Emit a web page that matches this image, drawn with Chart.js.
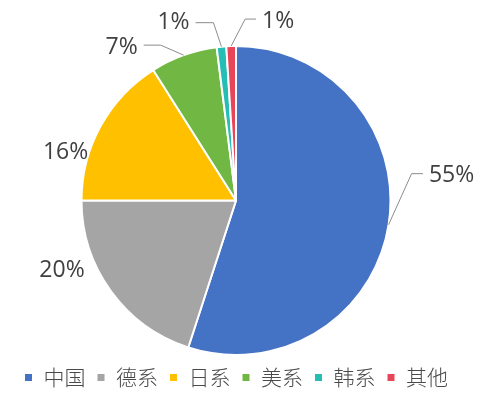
<!DOCTYPE html>
<html>
<head>
<meta charset="utf-8">
<script src="https://cdn.jsdelivr.net/npm/chart.js@4"></script>
<style>
  html, body { margin: 0; padding: 0; background: #ffffff; }
  #wrap { width: 480px; height: 393px; position: relative; }
</style>
</head>
<body>
<div id="wrap"><canvas id="chart"></canvas></div>
<script>
// Categories and shares (%)
const CATEGORIES = ['中国', '德系', '日系', '美系', '韩系', '其他'];
const SHARES = [55, 20, 16, 7, 1, 1];
const COLORS = ['#4472C4', '#A5A5A5', '#FFC000', '#70B843', '#26BDB5', '#E84558'];

// Label placement relative to each slice's outer mid-point: [elbowDx, elbowDy, textDx, textDy, leader]
const LABEL_PLACE = [
  [23, -51, 63, -49, true],
  [0, 0, -49, -21, false],
  [0, 0, -35, 26, false],
  [-23, -10, -62, -8, true],
  [-8, -24, -48, -24, true],
  [14, -27, 47, -25, true],
];

const FONT = '"Open Sans", "Noto Sans", sans-serif';
const CJK_FONT = '"Noto Sans CJK SC", sans-serif';

const pieLabels = {
  id: 'pieLabels',
  afterDatasetsDraw(chart) {
    const ctx = chart.ctx;
    const meta = chart.getDatasetMeta(0);
    ctx.save();
    ctx.font = '23px ' + FONT;
    ctx.fillStyle = '#404040';
    ctx.textAlign = 'center';
    ctx.textBaseline = 'middle';
    meta.data.forEach((arc, i) => {
      const p = arc.getProps(['x', 'y', 'startAngle', 'endAngle', 'outerRadius'], true);
      const mid = (p.startAngle + p.endAngle) / 2;
      const ax = p.x + Math.cos(mid) * p.outerRadius;
      const ay = p.y + Math.sin(mid) * p.outerRadius;
      const [ex, ey, tx, ty, leader] = LABEL_PLACE[i];
      const textX = ax + tx, textY = ay + ty;
      if (leader) {
        const w = ctx.measureText(SHARES[i] + '%').width;
        const side = tx > ex ? 1 : -1;
        ctx.strokeStyle = '#8c8c8c';
        ctx.lineWidth = 1;
        ctx.beginPath();
        ctx.moveTo(ax, ay);
        ctx.lineTo(ax + ex, ay + ey);
        ctx.lineTo(textX - side * (w / 2 + 6), ay + ey);
        ctx.stroke();
      }
      ctx.fillText(SHARES[i] + '%', textX, textY);
    });
    ctx.restore();
  }
};

new Chart(document.getElementById('chart'), {
  type: 'pie',
  data: {
    labels: CATEGORIES,
    datasets: [{
      data: SHARES,
      backgroundColor: COLORS,
      borderColor: '#ffffff',
      borderWidth: 2,
      hoverOffset: 0,
    }],
  },
  options: {
    responsive: true,
    maintainAspectRatio: false,
    animation: false,
    layout: { padding: { top: 45, bottom: -5, left: 0, right: 8 } },
    plugins: {
      legend: {
        position: 'bottom',
        labels: {
          color: '#4a4a4a',
          font: { family: CJK_FONT, size: 21, weight: '300' },
          boxWidth: 9,
          boxHeight: 9,
          padding: 11,
        },
      },
      tooltip: { enabled: false },
    },
  },
  plugins: [pieLabels],
});
</script>
</body>
</html>
